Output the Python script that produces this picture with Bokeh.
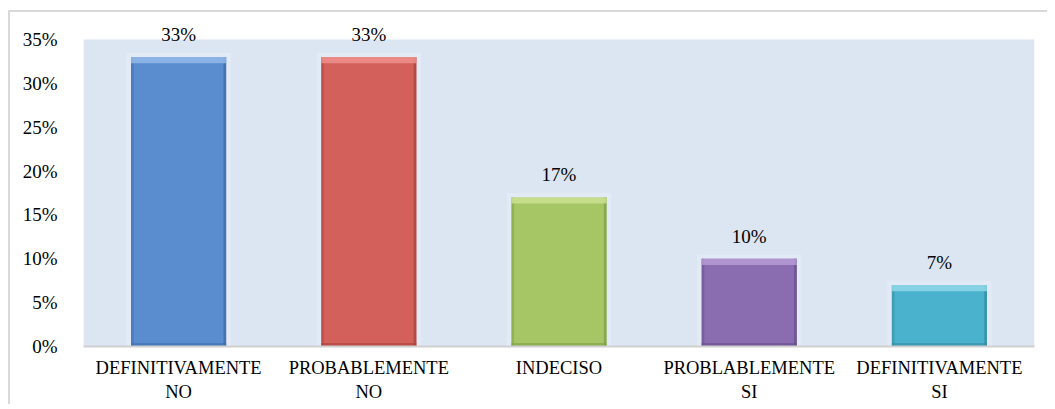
from bokeh.plotting import figure
from bokeh.models import Range1d, FixedTicker, NumeralTickFormatter, ColumnDataSource, LabelSet, BoxAnnotation
from bokeh.embed import file_html
from bokeh.resources import INLINE

categories = ["DEFINITIVAMENTE\nNO", "PROBABLEMENTE\nNO", "INDECISO", "PROBLABLEMENTE\nSI", "DEFINITIVAMENTE\nSI"]
values = [0.33, 0.33, 0.17, 0.10, 0.07]
value_labels = ["33%", "33%", "17%", "10%", "7%"]
y_ticks = [0, 0.05, 0.10, 0.15, 0.20, 0.25, 0.30, 0.35]

main_colors = ["#5a8dd0", "#d4605c", "#a6c565", "#8a6cb0", "#4bb2cd"]
edge_colors = ["#3e6ca8", "#a8403d", "#7f9c43", "#664f8a", "#338aa0"]
top_colors = ["#93b8e8", "#ee918c", "#cbe293", "#b59bd6", "#92d8ea"]

FONT = "Liberation Serif"

n = len(categories)
centers = [i + 0.5 for i in range(n)]
half = 0.25

# frame: x 83..1034, y 8..346 ; 35% sits at y=39
FW, FH = 951, 338
y_top = y_ticks[-1] * FH / (346 - 39)

p = figure(frame_width=FW, frame_height=FH, output_backend="svg", toolbar_location=None,
           x_range=Range1d(0, n), y_range=Range1d(0, y_top),
           min_border_left=83, min_border_right=13, min_border_top=8, min_border_bottom=55,
           background_fill_color=None, border_fill_color=None,
           styles={"background": "linear-gradient(#d9d9d9,#d9d9d9) 8px 10px / 1100px 2px no-repeat, "
                                 "linear-gradient(#d9d9d9,#d9d9d9) 8px 10px / 2px 500px no-repeat, white"})
p.outline_line_color = None
p.grid.visible = False

# plot-area background up to the last tick
p.add_layout(BoxAnnotation(top=y_ticks[-1], bottom=0, fill_color="#dce6f2", fill_alpha=1,
                           line_color=None, level="underlay"))

src = ColumnDataSource(dict(
    left=[c - half for c in centers], right=[c + half for c in centers],
    top=values, bottom=[0] * n,
    main=main_colors, edge=edge_colors, light=top_colors,
    hl=[c - half - 0.025 for c in centers], hr=[c + half + 0.025 for c in centers],
    ht=[v + 0.005 for v in values],
    el_r=[c - half + 0.014 for c in centers], er_l=[c + half - 0.014 for c in centers],
    tb=[v - 0.007 for v in values],
    bt=[0.004] * n,
))

# soft halo
p.quad(left="hl", right="hr", top="ht", bottom="bottom", source=src,
       fill_color="#e8eef7", fill_alpha=0.5, line_color=None)
# bar body
p.quad(left="left", right="right", top="top", bottom="bottom", source=src,
       fill_color="main", line_color=None)
# side edges
p.quad(left="left", right="el_r", top="top", bottom="bottom", source=src,
       fill_color="edge", fill_alpha=0.5, line_color=None)
p.quad(left="er_l", right="right", top="top", bottom="bottom", source=src,
       fill_color="edge", fill_alpha=0.75, line_color=None)
# top bevel
p.quad(left="left", right="right", top="top", bottom="tb", source=src,
       fill_color="light", fill_alpha=0.85, line_color=None)
# bottom darker
p.quad(left="left", right="right", top="bt", bottom="bottom", source=src,
       fill_color="edge", fill_alpha=0.6, line_color=None)

lab = ColumnDataSource(dict(x=centers, y=values, t=value_labels))
p.add_layout(LabelSet(x="x", y="y", text="t", source=lab, text_align="center", text_baseline="bottom",
                      y_offset=12, text_font=FONT, text_font_size="19px", text_color="black"))

# axes
p.yaxis.ticker = FixedTicker(ticks=y_ticks)
p.yaxis.formatter = NumeralTickFormatter(format="0%")
p.yaxis.axis_line_color = None
p.yaxis.major_tick_line_color = None
p.yaxis.minor_tick_line_color = None
p.yaxis.major_label_standoff = 20
p.yaxis.major_label_text_font = FONT
p.yaxis.major_label_text_font_size = "19px"
p.yaxis.major_label_text_color = "black"

p.xaxis.ticker = FixedTicker(ticks=centers)
p.xaxis.major_label_overrides = {c: lab_ for c, lab_ in zip(centers, categories)}
p.xaxis.axis_line_color = "#d0d0d0"
p.xaxis.axis_line_width = 2
p.xaxis.major_tick_line_color = None
p.xaxis.minor_tick_line_color = None
p.xaxis.major_label_standoff = 5
p.xaxis.major_label_text_font = FONT
p.xaxis.major_label_text_font_size = "18.5px"
p.xaxis.major_label_text_color = "black"

open("out.html", "w").write(file_html(p, INLINE))
